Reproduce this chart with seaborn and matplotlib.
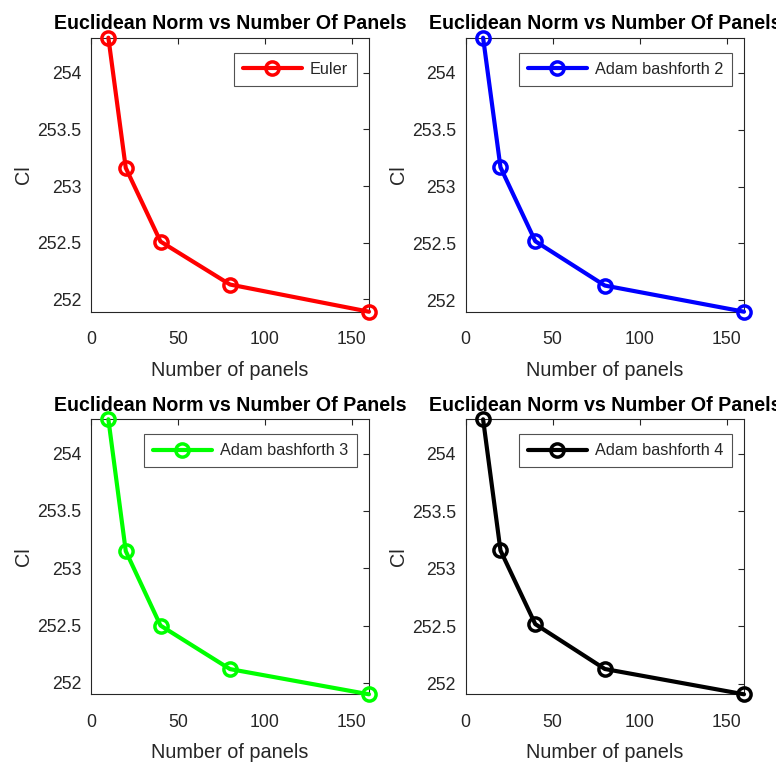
import matplotlib
matplotlib.use("Agg")
import matplotlib.pyplot as plt
import seaborn as sns
import pandas as pd

sns.set_theme(style="white")
plt.rcParams['font.family'] = ['Liberation Sans', 'DejaVu Sans']

panels = [10, 20, 40, 80, 160]
euler = [254.31, 253.16, 252.51, 252.13, 251.89]
ab2 = [254.31, 253.17, 252.52, 252.13, 251.90]
ab3 = [254.30, 253.15, 252.50, 252.12, 251.90]
ab4 = [254.30, 253.16, 252.52, 252.13, 251.91]
series_names = ["Euler", "Adam bashforth 2", "Adam bashforth 3", "Adam bashforth 4"]
series_vals = [euler, ab2, ab3, ab4]
colors = ["#ff0000", "#0000ff", "#00ff00", "#000000"]
title = "Euclidean Norm vs Number Of Panels"
xlabel = "Number of panels"
ylabel = "Cl"
xticks = [0, 50, 100, 150]
yticks = [252, 252.5, 253, 253.5, 254]
yticklabels = ["252", "252.5", "253", "253.5", "254"]

W, H = 776, 769
fig = plt.figure(figsize=(W / 100, H / 100), dpi=100)
fig.patch.set_facecolor("white")

boxes = [
    (91, 37.7, 369, 311.7),
    (465.7, 37.7, 744, 311.7),
    (91, 419.3, 369, 694.3),
    (465.7, 419.3, 744, 694.3),
]
axc = "#262626"
for (l, t, r, b), name, vals, col in zip(boxes, series_names, series_vals, colors):
    ax = fig.add_axes([l / W, 1 - b / H, (r - l) / W, (b - t) / H])
    df = pd.DataFrame({"x": panels, "y": vals})
    sns.lineplot(data=df, x="x", y="y", ax=ax, color=col, linewidth=3,
                 marker="o", markersize=9.5, markerfacecolor="none",
                 markeredgecolor=col, markeredgewidth=2.5, label=name,
                 clip_on=False, zorder=5)
    ax.set_xlim(0, 160)
    ax.set_ylim(min(vals), max(vals))
    ax.set_xticks(xticks)
    ax.set_yticks(yticks)
    ax.set_yticklabels(yticklabels)
    ax.tick_params(direction="in", length=4, width=0.8, top=True, right=True,
                   labelsize=12.7, colors=axc)
    ax.tick_params(axis="x", pad=14)
    ax.tick_params(axis="y", pad=7)
    for s in ax.spines.values():
        s.set_color(axc)
        s.set_linewidth(0.8)
    ax.set_xlabel(xlabel, fontsize=14.3, color=axc, labelpad=9)
    ax.set_ylabel(ylabel, fontsize=14.3, color=axc, labelpad=3)
    ax.set_title(title, fontsize=14.1, fontweight="bold", color="black", pad=6)
    pw, ph = r - l, b - t
    leg = ax.legend(loc="upper right", bbox_to_anchor=(1 - 12 / pw, 1 - 15 / ph),
                    borderaxespad=0, fontsize=11.7, frameon=True, fancybox=False,
                    handlelength=3.6, handletextpad=0.5, borderpad=0.55)
    leg.get_frame().set_edgecolor(axc)
    leg.get_frame().set_linewidth(0.8)
    for tx in leg.get_texts():
        tx.set_color(axc)

fig.savefig("out.png", dpi=100)
